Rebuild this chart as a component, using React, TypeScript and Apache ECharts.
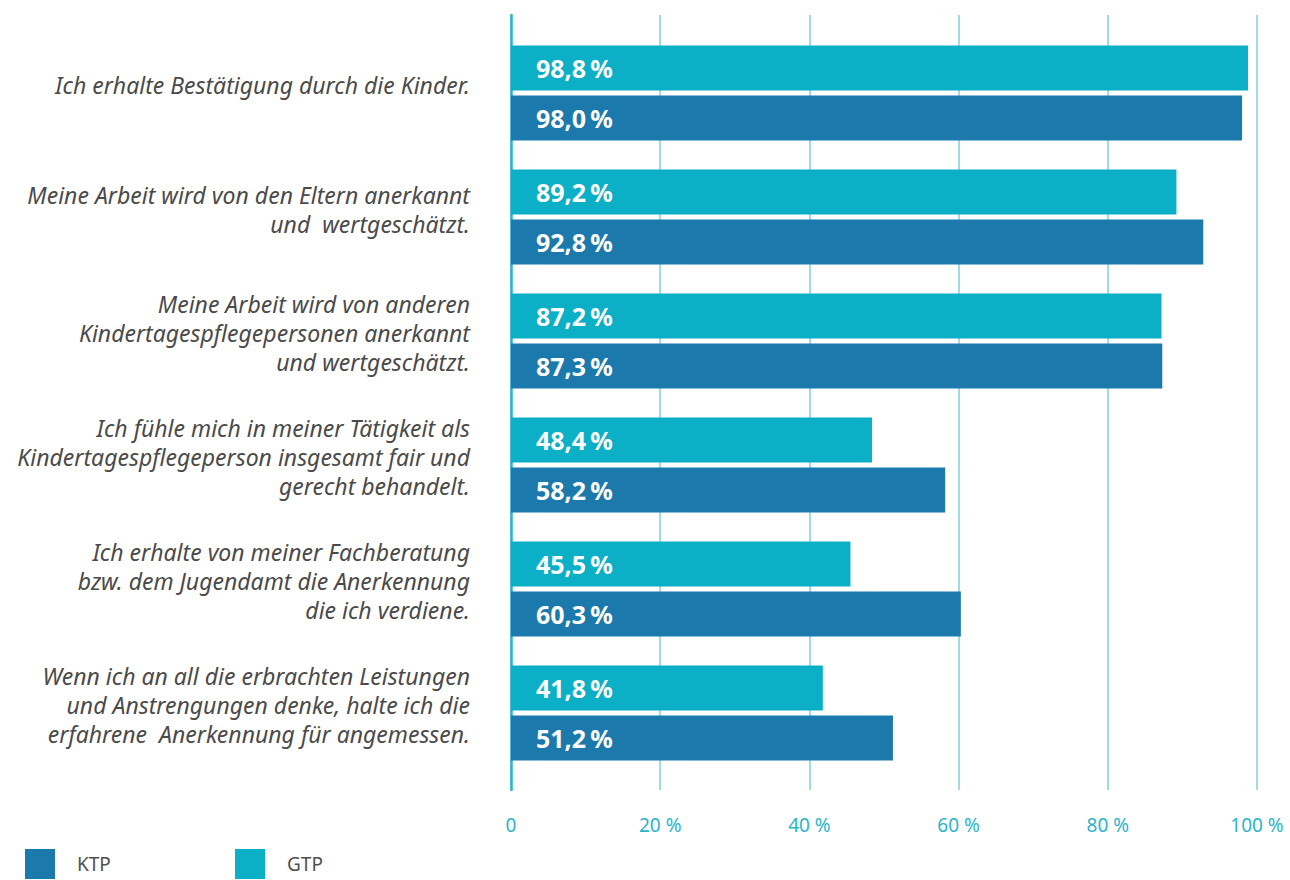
import React, { useEffect, useRef } from "react";
import * as echarts from "echarts";

const categories = [
  "Ich erhalte Bestätigung durch die Kinder.",
  "Meine Arbeit wird von den Eltern anerkannt\nund  wertgeschätzt.",
  "Meine Arbeit wird von anderen\nKindertagespflegepersonen anerkannt\nund wertgeschätzt.",
  "Ich fühle mich in meiner Tätigkeit als\nKindertagespflegeperson insgesamt fair und\ngerecht behandelt.",
  "Ich erhalte von meiner Fachberatung\nbzw. dem Jugendamt die Anerkennung\ndie ich verdiene.",
  "Wenn ich an all die erbrachten Leistungen\nund Anstrengungen denke, halte ich die\nerfahrene  Anerkennung für angemessen.",
];
const gtpValues = [98.8, 89.2, 87.2, 48.4, 45.5, 41.8];
const ktpValues = [98.0, 92.8, 87.3, 58.2, 60.3, 51.2];
const tickValues = [0, 20, 40, 60, 80, 100];

const GTP_COLOR = "#0BB0C7";
const KTP_COLOR = "#1B79AB";
const FONT = "'Noto Sans', 'Open Sans', sans-serif";

export default function App() {
  const ref = useRef<HTMLDivElement>(null);
  useEffect(() => {
    document.body.style.margin = "0";
    const chart = echarts.init(ref.current!, null, { renderer: "svg" });
    const labelFmt = (p: any) => p.value.toFixed(1).replace(".", ",") + "\u2009%";
    const barLabel = {
      show: true,
      position: "insideLeft",
      distance: 25,
      color: "#ffffff",
      fontWeight: "bold",
      fontSize: 25,
      fontFamily: FONT,
      formatter: labelFmt,
    };
    chart.setOption({
      animation: false,
      textStyle: { fontFamily: FONT },
      legend: {
        left: 25,
        top: 849,
        padding: 0,
        icon: "rect",
        itemWidth: 30,
        itemHeight: 30,
        itemGap: 118,
        data: ["KTP", "GTP"],
        textStyle: {
          color: "#505050",
          fontSize: 19,
          lineHeight: 22,
          fontFamily: FONT,
          padding: [0, 0, 0, 17],
          width: 40,
        },
      },
      grid: [
        { left: 511, right: 33, top: 31, height: 744, containLabel: false },
        { left: 511, right: 33, top: 15, height: 775, containLabel: false },
        { left: 511, right: 33, top: 23, height: 744, containLabel: false },
      ],
      xAxis: [
        { type: "value", gridIndex: 0, min: 0, max: 100, interval: 20, show: false },
        {
          type: "value",
          gridIndex: 1,
          min: 0,
          max: 100,
          interval: 20,
          axisLine: { show: false },
          axisTick: { show: false },
          splitLine: { show: true, lineStyle: { color: "#7FD0DC", width: 1.5 } },
          axisLabel: {
            color: "#2BB5C9",
            fontSize: 19,
            margin: 25,
            fontFamily: FONT,
            customValues: tickValues,
            formatter: (v: number) => (v === 0 ? "0" : v + " %"),
          },
        },
        { type: "value", gridIndex: 2, min: 0, max: 100, interval: 20, show: false },
      ],
      yAxis: [
        {
          type: "category",
          gridIndex: 0,
          inverse: true,
          data: categories,
          axisLine: { show: false },
          axisTick: { show: false },
          axisLabel: { show: false },
        },
        {
          type: "value",
          gridIndex: 1,
          min: 0,
          max: 1,
          axisLine: { show: true, lineStyle: { color: "#2BB5C9", width: 2.5 } },
          axisTick: { show: false },
          axisLabel: { show: false },
          splitLine: { show: false },
        },
        {
          type: "category",
          gridIndex: 2,
          inverse: true,
          data: categories,
          axisLine: { show: false },
          axisTick: { show: false },
          splitLine: { show: false },
          axisLabel: {
            margin: 41,
            align: "right",
            fontStyle: "italic",
            fontSize: 23,
            lineHeight: 29,
            color: "#4a4a4a",
            fontFamily: FONT,
          },
        },
      ],
      series: [
        {
          name: "GTP",
          type: "bar",
          xAxisIndex: 0,
          yAxisIndex: 0,
          data: gtpValues,
          barWidth: 45,
          barGap: "11%",
          itemStyle: { color: GTP_COLOR },
          label: barLabel,
        },
        {
          name: "KTP",
          type: "bar",
          xAxisIndex: 0,
          yAxisIndex: 0,
          data: ktpValues,
          barWidth: 45,
          barGap: "11%",
          itemStyle: { color: KTP_COLOR },
          label: barLabel,
        },
      ],
    });
    return () => chart.dispose();
  }, []);
  return (
    <div
      ref={ref}
      style={{ position: "absolute", left: 0, top: 0, width: 1290, height: 880 }}
    />
  );
}
